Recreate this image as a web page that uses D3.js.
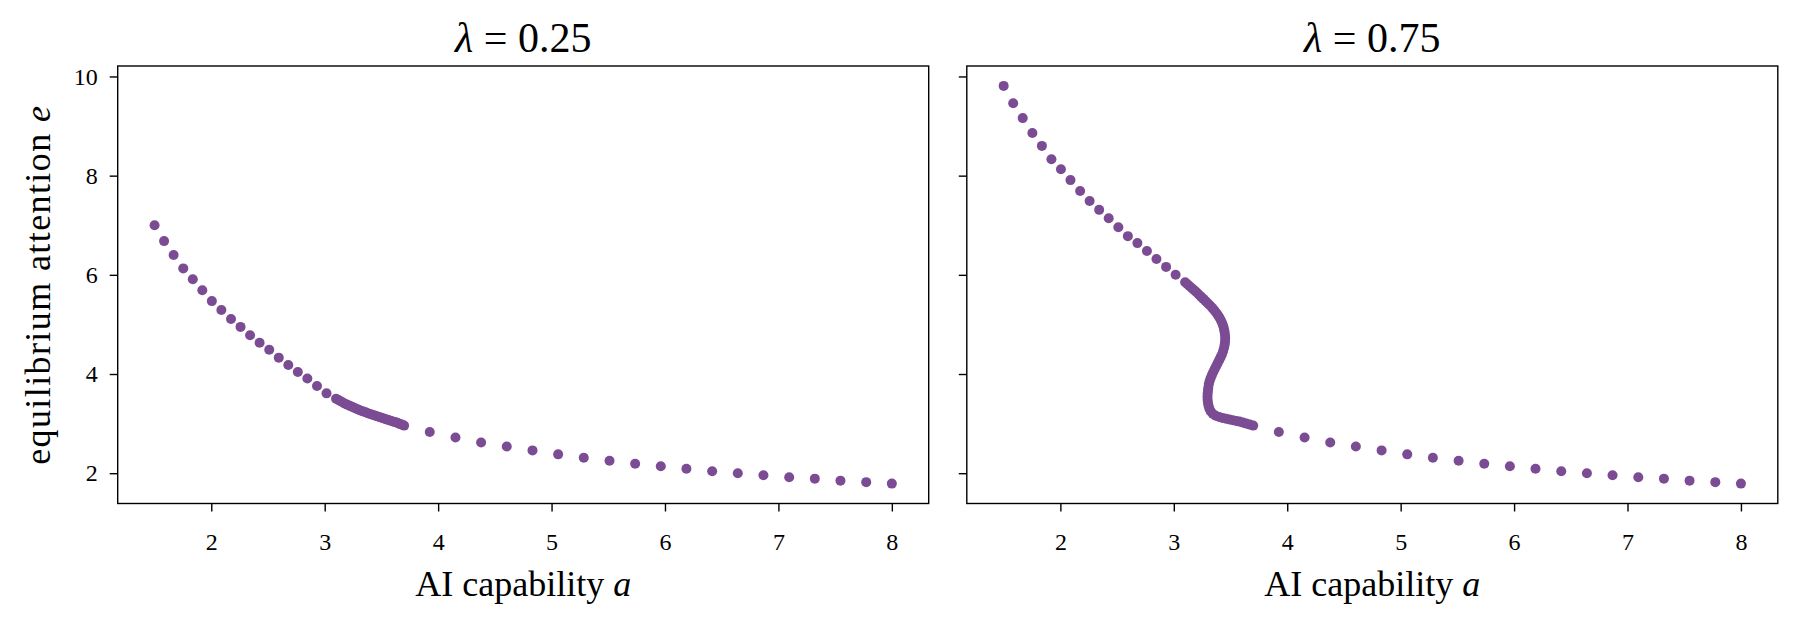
<!DOCTYPE html>
<html>
<head>
<meta charset="utf-8">
<script src="https://cdn.jsdelivr.net/npm/d3@7"></script>
<style>
  body { margin: 0; background: #fff; }
  svg text { font-family: "Liberation Serif", "DejaVu Serif", serif; fill: #000; }
</style>
</head>
<body>
<svg id="chart" width="1797" height="625"></svg>
<script>
// a < 3.1 (coarse grid)
const aCoarse = [1.5, 1.584, 1.668, 1.753, 1.837, 1.921, 2.005, 2.089, 2.174, 2.258,
  2.342, 2.426, 2.511, 2.595, 2.679, 2.763, 2.847, 2.932, 3.016];
const eCoarseLow = [7.00, 6.68, 6.40, 6.13, 5.91, 5.69, 5.47, 5.29, 5.11, 4.95,
  4.78, 4.63, 4.49, 4.33, 4.18, 4.04, 3.91, 3.76, 3.61];
const eCoarseHigh = [9.81, 9.46, 9.16, 8.86, 8.60, 8.33, 8.13, 7.91, 7.69, 7.49,
  7.31, 7.14, 6.96, 6.78, 6.64, 6.48, 6.32, 6.16, 6.00];

// 3.1 <= a <= 3.7 (fine grid), lambda = 0.25
const aFineLow = [3.10, 3.12, 3.14, 3.16, 3.18, 3.20, 3.22, 3.24, 3.26, 3.28, 3.30,
  3.32, 3.34, 3.36, 3.38, 3.40, 3.42, 3.44, 3.46, 3.48, 3.50, 3.52, 3.54, 3.56,
  3.58, 3.60, 3.62, 3.64, 3.66, 3.68, 3.70];
const eFineLow = [3.50, 3.475, 3.45, 3.425, 3.40, 3.38, 3.36, 3.34, 3.32, 3.30, 3.28,
  3.26, 3.245, 3.23, 3.21, 3.195, 3.18, 3.165, 3.15, 3.135, 3.12, 3.105, 3.09, 3.075,
  3.06, 3.045, 3.03, 3.015, 2.995, 2.98, 2.96];

// fine region, lambda = 0.75 (S-shaped branch)
const aFineHigh = [3.100, 3.120, 3.140, 3.160, 3.180, 3.200, 3.220, 3.240, 3.260, 3.280,
  3.300, 3.320, 3.338, 3.355, 3.372, 3.388, 3.402, 3.415, 3.426, 3.435,
  3.442, 3.447, 3.451, 3.453, 3.452, 3.449, 3.443, 3.435, 3.425, 3.413,
  3.400, 3.387, 3.374, 3.361, 3.348, 3.336, 3.325, 3.316, 3.309, 3.304,
  3.301, 3.298, 3.297, 3.298, 3.301, 3.306, 3.314, 3.326, 3.345, 3.370,
  3.400, 3.430, 3.460, 3.490, 3.520, 3.550, 3.580, 3.610, 3.640, 3.670, 3.700];
const eFineHigh = [5.850, 5.810, 5.770, 5.730, 5.690, 5.650, 5.605, 5.560, 5.515, 5.470,
  5.425, 5.380, 5.335, 5.290, 5.240, 5.190, 5.140, 5.085, 5.030, 4.975,
  4.915, 4.855, 4.790, 4.725, 4.660, 4.595, 4.530, 4.465, 4.400, 4.340,
  4.280, 4.220, 4.160, 4.100, 4.040, 3.980, 3.920, 3.860, 3.800, 3.720,
  3.660, 3.600, 3.540, 3.480, 3.420, 3.360, 3.300, 3.245, 3.195, 3.160,
  3.135, 3.115, 3.100, 3.085, 3.070, 3.055, 3.040, 3.020, 3.000, 2.980, 2.960];

// a > 3.7, same for both panels
const aTail = [3.926, 4.153, 4.379, 4.605, 4.832, 5.058, 5.284, 5.511, 5.737, 5.963,
  6.189, 6.416, 6.642, 6.868, 7.095, 7.321, 7.547, 7.774, 8.0];
const eTail = [2.83, 2.72, 2.62, 2.54, 2.46, 2.38, 2.31, 2.25, 2.19, 2.14,
  2.09, 2.04, 2.00, 1.96, 1.92, 1.89, 1.85, 1.82, 1.79];

const titles = ["0.25", "0.75"];
const xTicks = [2, 3, 4, 5, 6, 7, 8];
const yTicks = [2, 4, 6, 8, 10];

const pts = (as, es) => as.map((a, i) => ({ a: a, e: es[i] }));
const panels = [
  [].concat(pts(aCoarse, eCoarseLow), pts(aFineLow, eFineLow), pts(aTail, eTail)),
  [].concat(pts(aCoarse, eCoarseHigh), pts(aFineHigh, eFineHigh), pts(aTail, eTail))
];

const svg = d3.select('#chart');
const plotTop = 66, plotBottom = 503.5;
const lefts = [117.7, 966.8];
const w = 811;
const color = '#7b4c94';

// shared y (sharey=True), 5% margins like matplotlib
const allE = panels.flat().map(d => d.e);
const allA = panels.flat().map(d => d.a);
const [eMin, eMax] = d3.extent(allE);
const [aMin, aMax] = d3.extent(allA);
const y = d3.scaleLinear()
  .domain([eMin - 0.05 * (eMax - eMin), eMax + 0.05 * (eMax - eMin)])
  .range([plotBottom, plotTop]);

panels.forEach((data, p) => {
  const x = d3.scaleLinear()
    .domain([aMin - 0.05 * (aMax - aMin), aMax + 0.05 * (aMax - aMin)])
    .range([lefts[p], lefts[p] + w]);
  const g = svg.append('g');

  g.selectAll('circle')
    .data(data)
    .enter()
    .append('circle')
    .attr('cx', d => x(d.a))
    .attr('cy', d => y(d.e))
    .attr('r', 5)
    .attr('fill', color);

  const xAxis = g.append('g')
    .attr('transform', `translate(0,${plotBottom})`)
    .call(d3.axisBottom(x).tickValues(xTicks).tickSize(8).tickPadding(21).tickFormat(d3.format('d')));
  const yAxis = g.append('g')
    .attr('transform', `translate(${lefts[p]},0)`)
    .call(d3.axisLeft(y).tickValues(yTicks).tickSize(8).tickPadding(12)
      .tickFormat(p === 0 ? d3.format('d') : () => ''));
  [xAxis, yAxis].forEach(ax => {
    ax.select('.domain').remove();
    ax.selectAll('line').attr('stroke', '#000').attr('stroke-width', 1.4);
    ax.selectAll('text').style('font-size', '24px').attr('font-family', null);
  });

  g.append('rect')
    .attr('x', lefts[p]).attr('y', plotTop)
    .attr('width', w).attr('height', plotBottom - plotTop)
    .attr('fill', 'none').attr('stroke', '#000').attr('stroke-width', 1.4);

  const title = g.append('text')
    .attr('x', lefts[p] + w / 2).attr('y', 52)
    .attr('text-anchor', 'middle')
    .style('font-size', '42px');
  title.append('tspan').style('font-style', 'italic').text('λ');
  title.append('tspan').text(' = ' + titles[p]);

  const xl = g.append('text')
    .attr('x', lefts[p] + w / 2).attr('y', 596)
    .attr('text-anchor', 'middle')
    .style('font-size', '36px');
  xl.append('tspan').text('AI capability ');
  xl.append('tspan').style('font-style', 'italic').text('a');
});

const yl = svg.append('text')
  .attr('transform', `translate(50,${(plotTop + plotBottom) / 2}) rotate(-90)`)
  .attr('text-anchor', 'middle')
  .style('font-size', '36px')
  .style('letter-spacing', '1.4px');
yl.append('tspan').text('equilibrium attention ');
yl.append('tspan').style('font-style', 'italic').text('e');
</script>
</body>
</html>
